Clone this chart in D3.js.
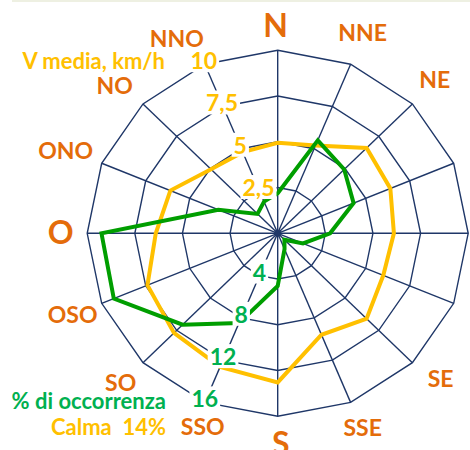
<!DOCTYPE html>
<html><head><meta charset="utf-8">
<script src="https://cdn.jsdelivr.net/npm/d3@7"></script>
<style>body{margin:0;background:#fff;overflow:hidden} svg{display:block}</style>
</head><body>
<svg id="c" width="470" height="450"></svg>
<script>
// ---- data ----
const directions = ["N","NNE","NE","ENE","E","ESE","SE","SSE","S","SSO","SO","OSO","O","ONO","NO","NNO"];
const speed = [4.95,5.2,6.6,6.4,6.1,6.0,6.6,6.0,8.15,7.9,7.7,7.4,6.4,6.1,4.95,4.8];
const occurrence = [3.5,8.8,7.9,6.9,4.4,2.3,0.8,1.5,4.6,8.5,11.3,14.9,14.8,5.4,2.4,3.0];
const speedTicks = [2.5,5,7.5,10];
const speedTickLabels = ["2,5","5","7,5","10"];
const occTicks = [4,8,12,16];
const occTickLabels = ["4","8","12","16"];
const speedTitle = "V media, km/h";
const occTitle = "% di occorrenza";
const calmText = "Calma  14%";

// ---- layout ----
const cx = 277.7, cy = 233.3, rx = 190.5, ry = 183;
const FONT = "Lato, 'Open Sans', sans-serif";
const ORANGE = "#e46c0a", YELLOW = "#ffc000", GREEN_LINE = "#009e00", GREEN_TXT = "#00b050", GRID = "#1f3768";
const labelR = {x: 222, y: 210};
const labelNudge = {NNE:[0,-7], NE:[0,-6], ENE:[30,0], E:[24,0], ESE:[8,-6], SE:[6,-4], SSO:[10,-1],
  O:[5,-2], ONO:[-7,-3], NO:[-6,0], NNO:[-16,-1], N:[-2,1], S:[3,-1]};
const bigLabels = new Set(["N","S","O","E"]);

const svg = d3.select("#c");
svg.append("rect").attr("x",12).attr("y",0).attr("width",458).attr("height",2).attr("fill","#eef0e2");

const n = directions.length;
const angle = d3.scaleLinear().domain([0, n]).range([0, 2*Math.PI]);
const rSpeed = d3.scaleLinear().domain([0, 10]).range([0, 1]);
const rOcc = d3.scaleLinear().domain([0, 16]).range([0, 1]);
const pt = (i, f) => [cx + rx*f*Math.sin(angle(i)), cy - ry*f*Math.cos(angle(i))];

// grid rings
const ringLine = d3.line().curve(d3.curveLinearClosed);
const g = svg.append("g");
speedTicks.forEach(t => {
  g.append("path").attr("d", ringLine(directions.map((d,i)=>pt(i, rSpeed(t)))))
    .attr("fill","none").attr("stroke",GRID).attr("stroke-width",1.4);
});
directions.forEach((d,i)=>{
  const p = pt(i,1);
  g.append("line").attr("x1",cx).attr("y1",cy).attr("x2",p[0]).attr("y2",p[1])
    .attr("stroke",GRID).attr("stroke-width",1.4);
});
g.append("circle").attr("cx",cx).attr("cy",cy).attr("r",3.5).attr("fill",GRID);

// series
svg.append("path").attr("d", ringLine(speed.map((v,i)=>pt(i, rSpeed(v)))))
  .attr("fill","none").attr("stroke",YELLOW).attr("stroke-width",4).attr("stroke-linejoin","miter");
svg.append("path").attr("d", ringLine(occurrence.map((v,i)=>pt(i, rOcc(v)))))
  .attr("fill","none").attr("stroke",GREEN_LINE).attr("stroke-width",4).attr("stroke-linejoin","miter");

// tick labels with white boxes
function boxedText(x, y, txt, color, size){
  const grp = svg.append("g");
  const t = grp.append("text").attr("x",x).attr("y",y).attr("text-anchor","middle")
    .attr("dominant-baseline","central").attr("font-family",FONT).attr("font-weight","bold")
    .attr("font-size",size).attr("fill",color).text(txt);
  const b = t.node().getBBox();
  grp.insert("rect","text").attr("x",b.x-2).attr("y",b.y+2).attr("width",b.width+4).attr("height",b.height-4).attr("fill","#fff");
}
const nnoIdx = directions.indexOf("NNO"), ssoIdx = directions.indexOf("SSO");
speedTicks.forEach((t,k)=>{
  const p = pt(nnoIdx, rSpeed(t));
  boxedText(p[0]-1, p[1]-4, speedTickLabels[k], YELLOW, 23);
});
occTicks.forEach((t,k)=>{
  const p = pt(ssoIdx, rOcc(t));
  boxedText(p[0], p[1]-4, occTickLabels[k], GREEN_TXT, 23);
});

// direction labels
directions.forEach((d,i)=>{
  const a = angle(i), nd = labelNudge[d] || [0,0];
  svg.append("text")
    .attr("x", cx + labelR.x*Math.sin(a) + nd[0])
    .attr("y", cy - labelR.y*Math.cos(a) + nd[1])
    .attr("text-anchor","middle").attr("dominant-baseline","central")
    .attr("font-family",FONT).attr("font-weight","bold")
    .attr("font-size", bigLabels.has(d) ? 32 : 23).attr("fill",ORANGE).text(d);
});

// titles
const titles = svg.append("g").attr("font-family",FONT).attr("font-weight","bold").attr("font-size",22).attr("text-anchor","end");
titles.append("text").attr("x",165).attr("y",69).attr("fill",YELLOW).text(speedTitle);
titles.append("text").attr("x",166).attr("y",409).attr("fill",GREEN_TXT).text(occTitle);
titles.append("text").attr("x",166).attr("y",435).attr("fill",YELLOW).attr("xml:space","preserve").style("white-space","pre").text(calmText);
</script>
</body></html>
